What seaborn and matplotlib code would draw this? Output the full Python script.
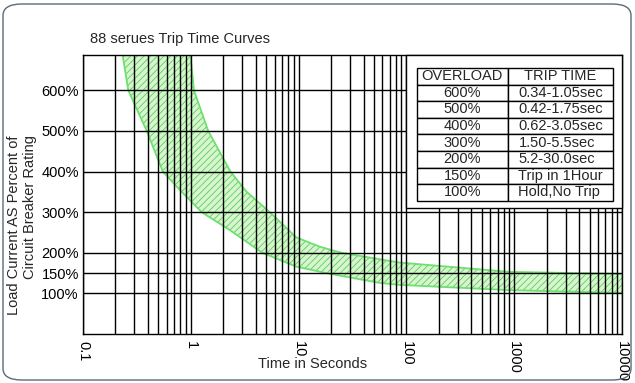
import numpy as np
import matplotlib
matplotlib.use("Agg")
import matplotlib.pyplot as plt
import seaborn as sns
from matplotlib.patches import Rectangle, FancyBboxPatch
from matplotlib.ticker import FixedLocator, LogLocator, NullFormatter

# ---------------- data ----------------
title = "88 serues Trip Time Curves"
x_ticks = [0.1, 1, 10, 100, 1000, 10000]
x_tick_labels = ["0.1", "1", "10", "100", "1000", "10000"]
y_ticks = [100, 150, 200, 300, 400, 500, 600]
y_tick_labels = ["100%", "150%", "200%", "300%", "400%", "500%", "600%"]

# fast (lower-left) edge of the trip band: load % vs seconds
pct_fast = [687, 600, 500, 400, 355, 300, 256, 200, 166, 150, 126, 121, 108, 101]
t_fast = [0.233, 0.263, 0.39, 0.55, 0.79, 1.26, 2.3, 4.6, 9.5, 18, 56, 86, 900, 10000]
# slow (upper-right) edge of the trip band
pct_slow = [687, 600, 500, 400, 350, 300, 238, 215, 200, 176, 153, 148]
t_slow = [0.99, 1.07, 1.45, 2.33, 3.3, 5.4, 9.5, 15.7, 25, 86, 900, 10000]

table_header = ["OVERLOAD", "TRIP TIME"]
overload = ["600%", "500%", "400%", "300%", "200%", "150%", "100%"]
trip_time = ["0.34-1.05sec", "0.42-1.75sec", "0.62-3.05sec", "1.50-5.5sec",
             "5.2-30.0sec", "Trip in 1Hour", "Hold,No Trip"]

# ---------------- style ----------------
sns.set_style("white")
plt.rcParams["font.family"] = ["Liberation Sans", "DejaVu Sans"]
plt.rcParams["font.size"] = 10.5
plt.rcParams["hatch.linewidth"] = 0.6

fig = plt.figure(figsize=(6.35, 3.83), dpi=100)
fig.patch.set_facecolor("white")
ax = fig.add_axes([83 / 635, 1 - 334 / 383, 539 / 635, 279 / 383])

ax.set_xscale("log")
ax.set_xlim(0.1, 10000)
ax.set_ylim(0, 687)

# band
poly_x = np.concatenate([t_fast, t_slow[::-1]])
poly_y = np.concatenate([pct_fast, pct_slow[::-1]])
ax.fill(poly_x, poly_y, facecolor="#d6f6ce", edgecolor="none", zorder=1)
ax.fill(poly_x, poly_y, facecolor="none", edgecolor="#62c862", hatch="/////",
        linewidth=0, zorder=1.1)
sns.lineplot(x=t_fast, y=pct_fast, sort=False, estimator=None, ax=ax,
             color="#6ee06e", linewidth=1.3, zorder=2)
sns.lineplot(x=t_slow, y=pct_slow, sort=False, estimator=None, ax=ax,
             color="#6ee06e", linewidth=1.3, zorder=2)

# grid
ax.set_axisbelow(False)
ax.xaxis.set_major_locator(FixedLocator(x_ticks))
ax.xaxis.set_minor_locator(LogLocator(base=10, subs=np.arange(2, 10)))
ax.xaxis.set_minor_formatter(NullFormatter())
ax.set_xticks(x_ticks)
ax.set_xticklabels(x_tick_labels, rotation=-90, va="top", ha="center")
ax.set_yticks(y_ticks)
ax.set_yticklabels(y_tick_labels)
ax.grid(True, which="major", axis="both", color="black", linewidth=1.0, zorder=2.5)
ax.grid(True, which="minor", axis="x", color="black", linewidth=1.0, zorder=2.5)
ax.tick_params(axis="both", which="both", length=0, labelsize=10.5, colors="black")
ax.tick_params(axis="x", pad=5)
ax.tick_params(axis="y", pad=3)
for s in ax.spines.values():
    s.set_visible(True)
    s.set_color("black")
    s.set_linewidth(1.0)

ax.set_xlabel("Time in Seconds", fontsize=10.5)
ax.xaxis.set_label_coords((313 - 83) / 539, (334 - 364) / 279)
ax.xaxis.label.set_va("center")
ax.set_ylabel("")

ax.set_title(title, fontsize=10.5, loc="left", x=(90 - 83) / 539, y=1.0, pad=9)

# white box behind the table
box_y0 = 311 / 687
ax.add_patch(Rectangle((0.6, box_y0), 0.4, 1 - box_y0, transform=ax.transAxes,
                       facecolor="white", edgecolor="black", linewidth=1.0,
                       zorder=3, clip_on=False))

cells = [[o, t] for o, t in zip(overload, trip_time)]
tx0 = (416.7 - 83) / 539
tx1 = (613.3 - 83) / 539
ty_top = (334 - 68) / 279
ty_bot = (334 - 200.7) / 279
tbl = ax.table(cellText=cells, colLabels=table_header,
               bbox=[tx0, ty_bot, tx1 - tx0, ty_top - ty_bot],
               colWidths=[0.464, 0.536], cellLoc="center", zorder=4)
tbl.auto_set_font_size(False)
tbl.set_fontsize(10.5)
for (r, c), cell in tbl.get_celld().items():
    cell.set_edgecolor("black")
    cell.set_linewidth(1.0)
    cell.set_facecolor("white")
    if c == 1 and r > 0:
        cell.get_text().set_ha("left")
        cell._loc = "left"
        cell.PAD = 0.1

# y label (two lines, ends aligned)
fig.text(22 / 635, 1 - 225 / 383,
         "Load Current AS Percent of\nCircuit Breaker Rating",
         rotation=90, ha="center", va="center", multialignment="right",
         fontsize=10.5)

# rounded panel frame
fig.patches.append(FancyBboxPatch((3 / 635, 3 / 383), 628 / 635, 376 / 383,
                                  boxstyle="round,pad=0,rounding_size=0.03",
                                  transform=fig.transFigure, facecolor="none",
                                  edgecolor="#5a6a7a", linewidth=1.0))

fig.savefig("out.png", dpi=100, facecolor="white")
